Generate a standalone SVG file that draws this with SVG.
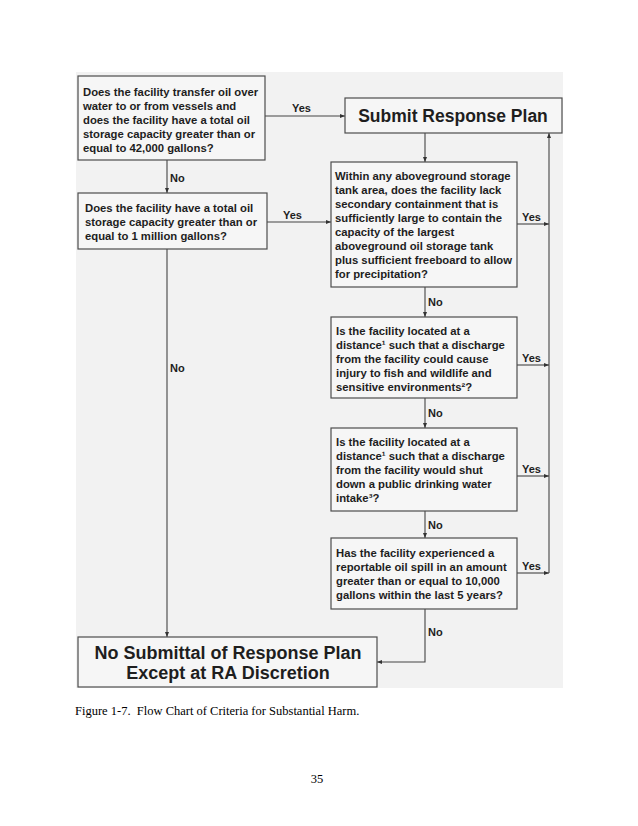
<svg xmlns="http://www.w3.org/2000/svg" width="638" height="826" viewBox="0 0 638 826">
<defs>
<marker id="ah" viewBox="0 0 10 10" refX="10" refY="5" markerWidth="5" markerHeight="5" orient="auto" markerUnits="userSpaceOnUse">
<path d="M0,1 L10,5 L0,9 z" fill="#333"/>
</marker>
<style>
.box{fill:#f6f6f6;stroke:#4d4d4d;stroke-width:1.2}
.t{font-family:"Liberation Sans",Arial,sans-serif;font-weight:bold;font-size:11.3px;fill:#1e1e1e}
.big{font-size:17.5px}
.huge{font-size:18px}
.lbl{font-family:"Liberation Sans",Arial,sans-serif;font-weight:bold;font-size:11px;fill:#1e1e1e}
.ln{stroke:#444;stroke-width:1.1;fill:none}
.cap{font-family:"Liberation Serif","Times New Roman",serif;font-size:12.5px;fill:#000;white-space:pre}
</style>
</defs>
<rect width="638" height="826" fill="#fff"/>
<rect x="76" y="72" width="487" height="616" fill="#f2f2f2"/>

<g id="connectors">
<line class="ln" x1="265" y1="116" x2="345" y2="116" marker-end="url(#ah)"/>
<text class="lbl" x="292" y="112">Yes</text>
<line class="ln" x1="167" y1="160" x2="167" y2="193" marker-end="url(#ah)"/>
<text class="lbl" x="170" y="182">No</text>
<line class="ln" x1="267" y1="222" x2="331" y2="222" marker-end="url(#ah)"/>
<text class="lbl" x="283" y="219">Yes</text>
<line class="ln" x1="167" y1="249" x2="167" y2="637" marker-end="url(#ah)"/>
<text class="lbl" x="170" y="372">No</text>
<line class="ln" x1="425" y1="133" x2="425" y2="162" marker-end="url(#ah)"/>
<line class="ln" x1="425" y1="287" x2="425" y2="317" marker-end="url(#ah)"/>
<text class="lbl" x="428" y="306">No</text>
<line class="ln" x1="425" y1="398" x2="425" y2="428" marker-end="url(#ah)"/>
<text class="lbl" x="428" y="417">No</text>
<line class="ln" x1="425" y1="511" x2="425" y2="538" marker-end="url(#ah)"/>
<text class="lbl" x="428" y="529">No</text>
<polyline class="ln" points="425,609 425,662 377,662" marker-end="url(#ah)"/>
<text class="lbl" x="428" y="636">No</text>
<line class="ln" x1="517" y1="224" x2="549" y2="224" marker-end="url(#ah)"/>
<text class="lbl" x="522" y="221">Yes</text>
<line class="ln" x1="517" y1="365" x2="549" y2="365" marker-end="url(#ah)"/>
<text class="lbl" x="522" y="362">Yes</text>
<line class="ln" x1="517" y1="476" x2="549" y2="476" marker-end="url(#ah)"/>
<text class="lbl" x="522" y="473">Yes</text>
<line class="ln" x1="517" y1="573" x2="549" y2="573" marker-end="url(#ah)"/>
<text class="lbl" x="522" y="570">Yes</text>
<line class="ln" x1="549" y1="573" x2="549" y2="133" marker-end="url(#ah)"/>
</g>

<g id="q1">
<rect class="box" x="78" y="76" width="187" height="84"/>
<text class="t" x="83" y="96">Does the facility transfer oil over</text>
<text class="t" x="83" y="110">water to or from vessels and</text>
<text class="t" x="83" y="124">does the facility have a total oil</text>
<text class="t" x="83" y="138">storage capacity greater than or</text>
<text class="t" x="83" y="152">equal to 42,000 gallons?</text>
</g>

<g id="submit">
<rect class="box" x="345" y="98" width="217" height="35"/>
<text class="t big" x="453" y="122" text-anchor="middle">Submit Response Plan</text>
</g>

<g id="q2">
<rect class="box" x="78" y="193" width="189" height="56"/>
<text class="t" x="85" y="212">Does the facility have a total oil</text>
<text class="t" x="85" y="226">storage capacity greater than or</text>
<text class="t" x="85" y="240">equal to 1 million gallons?</text>
</g>

<g id="q3">
<rect class="box" x="331" y="162" width="186" height="125"/>
<text class="t" x="335" y="180">Within any aboveground storage</text>
<text class="t" x="335" y="194">tank area, does the facility lack</text>
<text class="t" x="335" y="208">secondary containment that is</text>
<text class="t" x="335" y="222">sufficiently large to contain the</text>
<text class="t" x="335" y="236">capacity of the largest</text>
<text class="t" x="335" y="250">aboveground oil storage tank</text>
<text class="t" x="335" y="264">plus sufficient freeboard to allow</text>
<text class="t" x="335" y="278">for precipitation?</text>
</g>

<g id="q4">
<rect class="box" x="331" y="317" width="186" height="81"/>
<text class="t" x="336" y="335">Is the facility located at a</text>
<text class="t" x="336" y="349">distance¹ such that a discharge</text>
<text class="t" x="336" y="363">from the facility could cause</text>
<text class="t" x="336" y="377">injury to fish and wildlife and</text>
<text class="t" x="336" y="391">sensitive environments²?</text>
</g>

<g id="q5">
<rect class="box" x="331" y="428" width="186" height="83"/>
<text class="t" x="336" y="446">Is the facility located at a</text>
<text class="t" x="336" y="460">distance¹ such that a discharge</text>
<text class="t" x="336" y="474">from the facility would shut</text>
<text class="t" x="336" y="488">down a public drinking water</text>
<text class="t" x="336" y="502">intake³?</text>
</g>

<g id="q6">
<rect class="box" x="331" y="538" width="186" height="71"/>
<text class="t" x="336" y="557">Has the facility experienced a</text>
<text class="t" x="336" y="571">reportable oil spill in an amount</text>
<text class="t" x="336" y="585">greater than or equal to 10,000</text>
<text class="t" x="336" y="599">gallons within the last 5 years?</text>
</g>

<g id="nosubmit">
<rect class="box" x="78" y="637" width="299" height="50"/>
<text class="t huge" x="228" y="659" text-anchor="middle">No Submittal of Response Plan</text>
<text class="t huge" x="228" y="679" text-anchor="middle">Except at RA Discretion</text>
</g>

<text class="cap" x="75" y="715" xml:space="preserve">Figure 1-7.  Flow Chart of Criteria for Substantial Harm.</text>
<text class="cap" x="317" y="783" text-anchor="middle">35</text>
</svg>
